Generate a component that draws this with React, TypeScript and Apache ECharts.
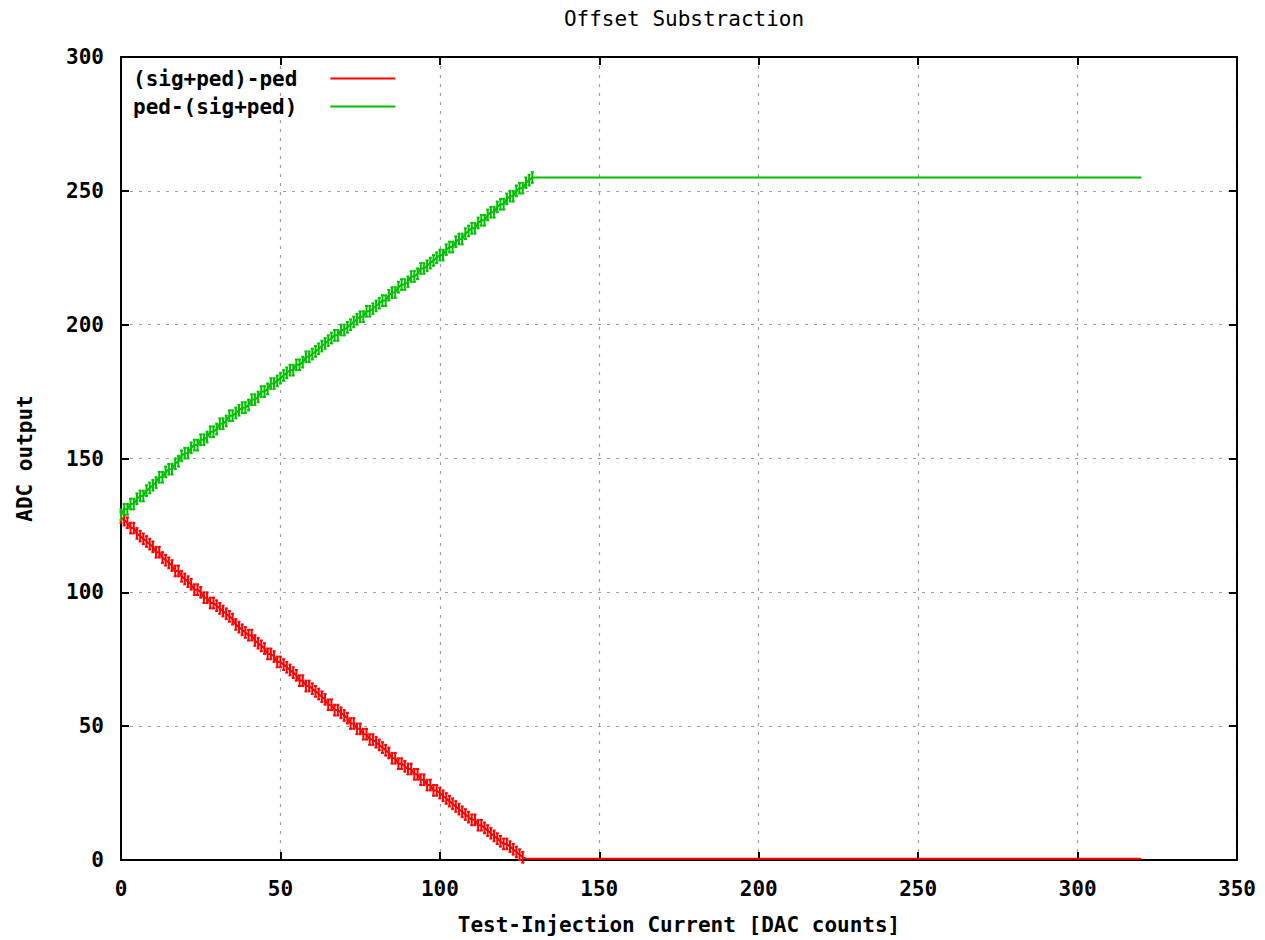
import React, { useEffect, useRef } from "react";
import * as echarts from "echarts";

// ---- Data ----
const titleText = "Offset Substraction";
const xAxisName = "Test-Injection Current [DAC counts]";
const yAxisName = "ADC output";
const seriesNames = ["(sig+ped)-ped", "ped-(sig+ped)"];

const xTicks = [0, 50, 100, 150, 200, 250, 300, 350];
const yTicks = [0, 50, 100, 150, 200, 250, 300];

// (sig+ped)-ped : one value per DAC count, x = 0..126
const redRamp = [
  128, 127, 126, 124, 124, 122, 121, 120, 119, 118,
  117, 115, 115, 113, 112, 111, 110, 108, 108, 106,
  105, 104, 103, 101, 101, 100, 98, 98, 96, 96,
  95, 94, 93, 92, 91, 90, 88, 87, 86, 85,
  84, 84, 82, 81, 80, 79, 77, 77, 76, 74,
  74, 73, 72, 71, 70, 69, 67, 67, 65, 65,
  64, 63, 62, 61, 60, 58, 58, 56, 56, 55,
  54, 53, 51, 51, 49, 49, 47, 47, 45, 45,
  44, 43, 42, 41, 40, 38, 38, 36, 36, 35,
  34, 34, 32, 32, 30, 30, 28, 28, 26, 26,
  25, 24, 23, 22, 21, 20, 19, 18, 17, 16,
  15, 15, 13, 13, 12, 11, 10, 9, 8, 7,
  6, 6, 5, 4, 3, 2, 1,
];
// saturated part of (sig+ped)-ped: [x, value]
const redFlat = [
  [127, 0.5],
  [320, 0.5],
];

// ped-(sig+ped) : one value per DAC count, x = 0..129
const greenRamp = [
  129, 131, 131, 133, 133, 135, 136, 136, 138, 139,
  140, 141, 143, 143, 145, 146, 146, 148, 149, 151,
  152, 152, 154, 155, 155, 157, 157, 158, 160, 160,
  161, 163, 163, 164, 166, 166, 167, 168, 169, 169,
  170, 172, 172, 173, 175, 175, 176, 178, 178, 179,
  180, 181, 182, 183, 183, 185, 185, 186, 188, 188,
  189, 190, 191, 192, 193, 194, 195, 196, 196, 198,
  198, 199, 200, 201, 202, 203, 203, 205, 205, 206,
  207, 208, 209, 209, 211, 212, 212, 214, 215, 215,
  216, 218, 218, 219, 221, 221, 222, 223, 224, 225,
  226, 226, 228, 229, 229, 231, 232, 232, 234, 235,
  236, 236, 238, 239, 239, 241, 242, 242, 244, 245,
  245, 247, 248, 248, 250, 251, 251, 253, 254, 255,
];
// saturated part of ped-(sig+ped): [x, value]
const greenFlat = [
  [130, 255],
  [320, 255],
];

// error bar half-heights (ADC counts) on the ramp points
const redErr = 2;
const greenErr = 2;

const RED = "#ff0000";
const GREEN = "#00c000";
const FONT = "DejaVu Sans Mono";

function errorRenderer(color: string) {
  return (params: any, api: any) => {
    const x = api.value(0);
    const y = api.value(1);
    const e = api.value(2);
    const top = api.coord([x, y + e]);
    const bot = api.coord([x, y - e]);
    const c = 1.5;
    const style = { stroke: color, lineWidth: 2 };
    return {
      type: "group",
      children: [
        { type: "line", shape: { x1: top[0], y1: top[1], x2: bot[0], y2: bot[1] }, style },
        { type: "line", shape: { x1: top[0] - c, y1: top[1], x2: top[0] + c, y2: top[1] }, style },
        { type: "line", shape: { x1: bot[0] - c, y1: bot[1], x2: bot[0] + c, y2: bot[1] }, style },
      ],
    };
  };
}

export default function App() {
  const ref = useRef<HTMLDivElement>(null);

  useEffect(() => {
    if (!ref.current) return;
    const chart = echarts.init(ref.current, undefined, { renderer: "svg" });

    const redLine = redRamp.map((v, i) => [i, v]).concat(redFlat);
    const greenLine = greenRamp.map((v, i) => [i, v]).concat(greenFlat);
    const redBars = redRamp.map((v, i) => [i, v, redErr]);
    const greenBars = greenRamp.map((v, i) => [i, v, greenErr]);

    const labelStyle = { fontFamily: FONT, fontWeight: "bold" as const, fontSize: 21, color: "#000" };
    const frame = { show: true, onZero: false, lineStyle: { color: "#000", width: 2 } };
    const ticks = { show: true, inside: true, length: 8, lineStyle: { color: "#000", width: 2 } };
    const grid = { show: true, lineStyle: { color: "#a0a0a0", width: 1.2, type: [3, 6] as number[] } };

    chart.setOption({
      animation: false,
      backgroundColor: "#fff",
      title: {
        text: titleText,
        left: 679,
        top: 3,
        textAlign: "center",
        textStyle: { fontFamily: FONT, fontWeight: "normal", fontSize: 21, color: "#000" },
      },
      legend: {
        data: seriesNames,
        orient: "vertical",
        left: 128,
        top: 63,
        align: "right",
        icon: "rect",
        itemWidth: 65,
        itemHeight: 2,
        itemGap: 7,
        textStyle: { ...labelStyle, lineHeight: 20, padding: [0, 28, 0, 0] },
      },
      grid: { left: 121, right: 28, top: 57, bottom: 79, containLabel: false },
      xAxis: [
        {
          type: "value",
          min: xTicks[0],
          max: xTicks[xTicks.length - 1],
          interval: xTicks[1] - xTicks[0],
          position: "bottom",
          axisLine: frame,
          axisTick: ticks,
          splitLine: grid,
          axisLabel: { ...labelStyle, margin: 18 },
          name: xAxisName,
          nameLocation: "middle",
          nameGap: 54,
          nameTextStyle: labelStyle,
        },
        {
          type: "value",
          min: xTicks[0],
          max: xTicks[xTicks.length - 1],
          interval: xTicks[1] - xTicks[0],
          position: "top",
          axisLine: frame,
          axisTick: ticks,
          splitLine: { show: false },
          axisLabel: { show: false },
        },
      ],
      yAxis: [
        {
          type: "value",
          min: yTicks[0],
          max: yTicks[yTicks.length - 1],
          interval: yTicks[1] - yTicks[0],
          position: "left",
          axisLine: frame,
          axisTick: ticks,
          splitLine: grid,
          axisLabel: { ...labelStyle, margin: 17 },
          name: yAxisName,
          nameLocation: "middle",
          nameGap: 86,
          nameTextStyle: labelStyle,
        },
        {
          type: "value",
          min: yTicks[0],
          max: yTicks[yTicks.length - 1],
          interval: yTicks[1] - yTicks[0],
          position: "right",
          axisLine: frame,
          axisTick: ticks,
          splitLine: { show: false },
          axisLabel: { show: false },
        },
      ],
      series: [
        {
          name: seriesNames[0],
          type: "line",
          data: redLine,
          showSymbol: false,
          symbol: "none",
          color: RED,
          lineStyle: { color: RED, width: 2 },
          z: 3,
        },
        {
          name: "redErrors",
          type: "custom",
          data: redBars,
          encode: { x: 0, y: 1 },
          renderItem: errorRenderer(RED),
          z: 3,
        },
        {
          name: seriesNames[1],
          type: "line",
          data: greenLine,
          showSymbol: false,
          symbol: "none",
          color: GREEN,
          lineStyle: { color: GREEN, width: 2 },
          z: 4,
        },
        {
          name: "greenErrors",
          type: "custom",
          data: greenBars,
          encode: { x: 0, y: 1 },
          renderItem: errorRenderer(GREEN),
          z: 4,
        },
      ],
    });

    return () => chart.dispose();
  }, []);

  return (
    <div
      ref={ref}
      style={{ position: "fixed", left: 0, top: 0, width: 1265, height: 940, background: "#fff" }}
    />
  );
}
